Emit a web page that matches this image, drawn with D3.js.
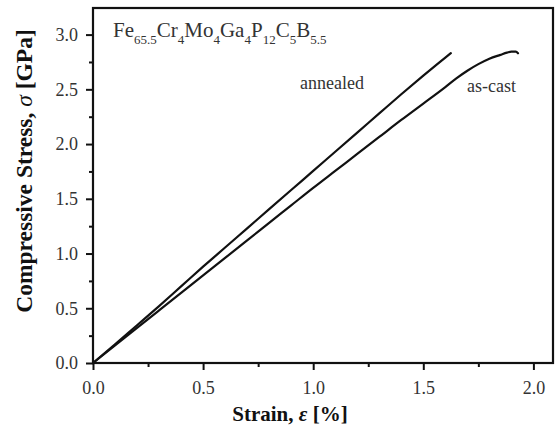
<!DOCTYPE html>
<html>
<head>
<meta charset="utf-8">
<script src="https://cdn.jsdelivr.net/npm/d3@7"></script>
<style>
  html, body { margin: 0; padding: 0; background: #fff; }
  svg { display: block; }
</style>
</head>
<body>
<svg id="chart" width="555" height="433"></svg>
<script>
// ---- data ----
const seriesNames = ["annealed", "as-cast"];
const strainAnnealed = [0, 0.1, 0.2, 0.3, 0.4, 0.5, 0.6, 0.7, 0.8, 0.9, 1.0, 1.1, 1.2, 1.3, 1.4, 1.5, 1.6, 1.625];
const stressAnnealed = [0, 0.17, 0.345, 0.52, 0.7, 0.88, 1.055, 1.23, 1.405, 1.58, 1.755, 1.93, 2.105, 2.28, 2.455, 2.625, 2.79, 2.83];
const strainAsCast = [0, 0.1, 0.2, 0.3, 0.4, 0.5, 0.6, 0.7, 0.8, 0.9, 1.0, 1.1, 1.2, 1.3, 1.4, 1.5, 1.6, 1.65, 1.7, 1.75, 1.8, 1.85, 1.88, 1.9, 1.92, 1.93];
const stressAsCast = [0, 0.16, 0.32, 0.48, 0.64, 0.8, 0.96, 1.12, 1.28, 1.44, 1.6, 1.755, 1.91, 2.065, 2.22, 2.37, 2.52, 2.6, 2.67, 2.73, 2.78, 2.815, 2.835, 2.845, 2.845, 2.83];
const xTickValues = [0, 0.5, 1.0, 1.5, 2.0];
const xMinorTicks = [0.25, 0.75, 1.25, 1.75];
const yTickValues = [0, 0.5, 1.0, 1.5, 2.0, 2.5, 3.0];
const yMinorTicks = [0.25, 0.75, 1.25, 1.75, 2.25, 2.75];

// ---- layout ----
const FONT = '"Liberation Serif", "Times New Roman", Times, serif';
const W = 555, H = 433;
const margin = { top: 8, right: 2, bottom: 70, left: 93 };
const iw = W - margin.left - margin.right;
const ih = H - margin.top - margin.bottom;

const svg = d3.select("#chart").attr("font-family", FONT);
const g = svg.append("g").attr("transform", `translate(${margin.left},${margin.top})`);

const x = d3.scaleLinear().domain([0, 2.089]).range([0, iw]);
const y = d3.scaleLinear().domain([0, 3.243]).range([ih, 0]);

// axes
const xAxis = d3.axisBottom(x).tickValues(xTickValues).tickFormat(d3.format(".1f")).tickSize(7).tickPadding(11);
const yAxis = d3.axisLeft(y).tickValues(yTickValues).tickFormat(d3.format(".1f")).tickSize(7).tickPadding(8);

const gx = g.append("g").attr("transform", `translate(0,${ih})`).call(xAxis);
const gy = g.append("g").call(yAxis);
const gxm = g.append("g").attr("transform", `translate(0,${ih})`)
  .call(d3.axisBottom(x).tickValues(xMinorTicks).tickSize(4).tickFormat(""));
const gym = g.append("g")
  .call(d3.axisLeft(y).tickValues(yMinorTicks).tickSize(4).tickFormat(""));

[gx, gy, gxm, gym].forEach(a => a.attr("font-family", FONT).attr("font-size", 18));
svg.selectAll(".domain").remove();
svg.selectAll(".tick line").attr("stroke", "#111").attr("stroke-width", 2);
[gx, gy].forEach(a => a.selectAll("text").attr("font-family", FONT)
  .attr("font-size", 18).attr("fill", "#333"));

// frame
g.append("rect").attr("x", 0).attr("y", 0).attr("width", iw).attr("height", ih)
  .attr("fill", "none").attr("stroke", "#111").attr("stroke-width", 2.2);

// curves
const line = d3.line().x(d => x(d[0])).y(d => y(d[1])).curve(d3.curveMonotoneX);
const dataAnnealed = strainAnnealed.map((s, i) => [s, stressAnnealed[i]]);
const dataAsCast = strainAsCast.map((s, i) => [s, stressAsCast[i]]);
[dataAnnealed, dataAsCast].forEach(d => {
  g.append("path").datum(d).attr("d", line)
    .attr("fill", "none").attr("stroke", "#111").attr("stroke-width", 2.2)
    .attr("stroke-linejoin", "round").attr("stroke-linecap", "round");
});

// series labels
svg.append("text").attr("x", 300).attr("y", 89).attr("font-family", FONT).attr("font-size", 18).attr("fill", "#333").text(seriesNames[0]);
svg.append("text").attr("x", 467).attr("y", 92).attr("font-family", FONT).attr("font-size", 18).attr("fill", "#333").text(seriesNames[1]);

// composition title
const comp = [["Fe", "65.5"], ["Cr", "4"], ["Mo", "4"], ["Ga", "4"], ["P", "12"], ["C", "5"], ["B", "5.5"]];
const t = svg.append("text").attr("x", 113).attr("y", 37).attr("font-family", FONT).attr("font-size", 21).attr("fill", "#333");
comp.forEach(([el, n], i) => {
  t.append("tspan").attr("dy", i === 0 ? 0 : -7).text(el);
  t.append("tspan").attr("font-size", 13).attr("dy", 7).text(n);
});

// axis titles
const xl = svg.append("text").attr("x", 290).attr("y", 421).attr("text-anchor", "middle")
  .attr("font-family", FONT).attr("font-size", 21).attr("font-weight", "bold").attr("fill", "#111");
xl.append("tspan").text("Strain, ");
xl.append("tspan").attr("font-style", "italic").text("ε");
xl.append("tspan").text(" [%]");

const yl = svg.append("text").attr("transform", "translate(32,171) rotate(-90)").attr("text-anchor", "middle")
  .attr("font-family", FONT).attr("font-size", 23.5).attr("font-weight", "bold").attr("fill", "#111");
yl.append("tspan").text("Compressive Stress, ");
yl.append("tspan").attr("font-style", "italic").attr("font-weight", "normal").text("σ");
yl.append("tspan").text(" [GPa]");
</script>
</body>
</html>
